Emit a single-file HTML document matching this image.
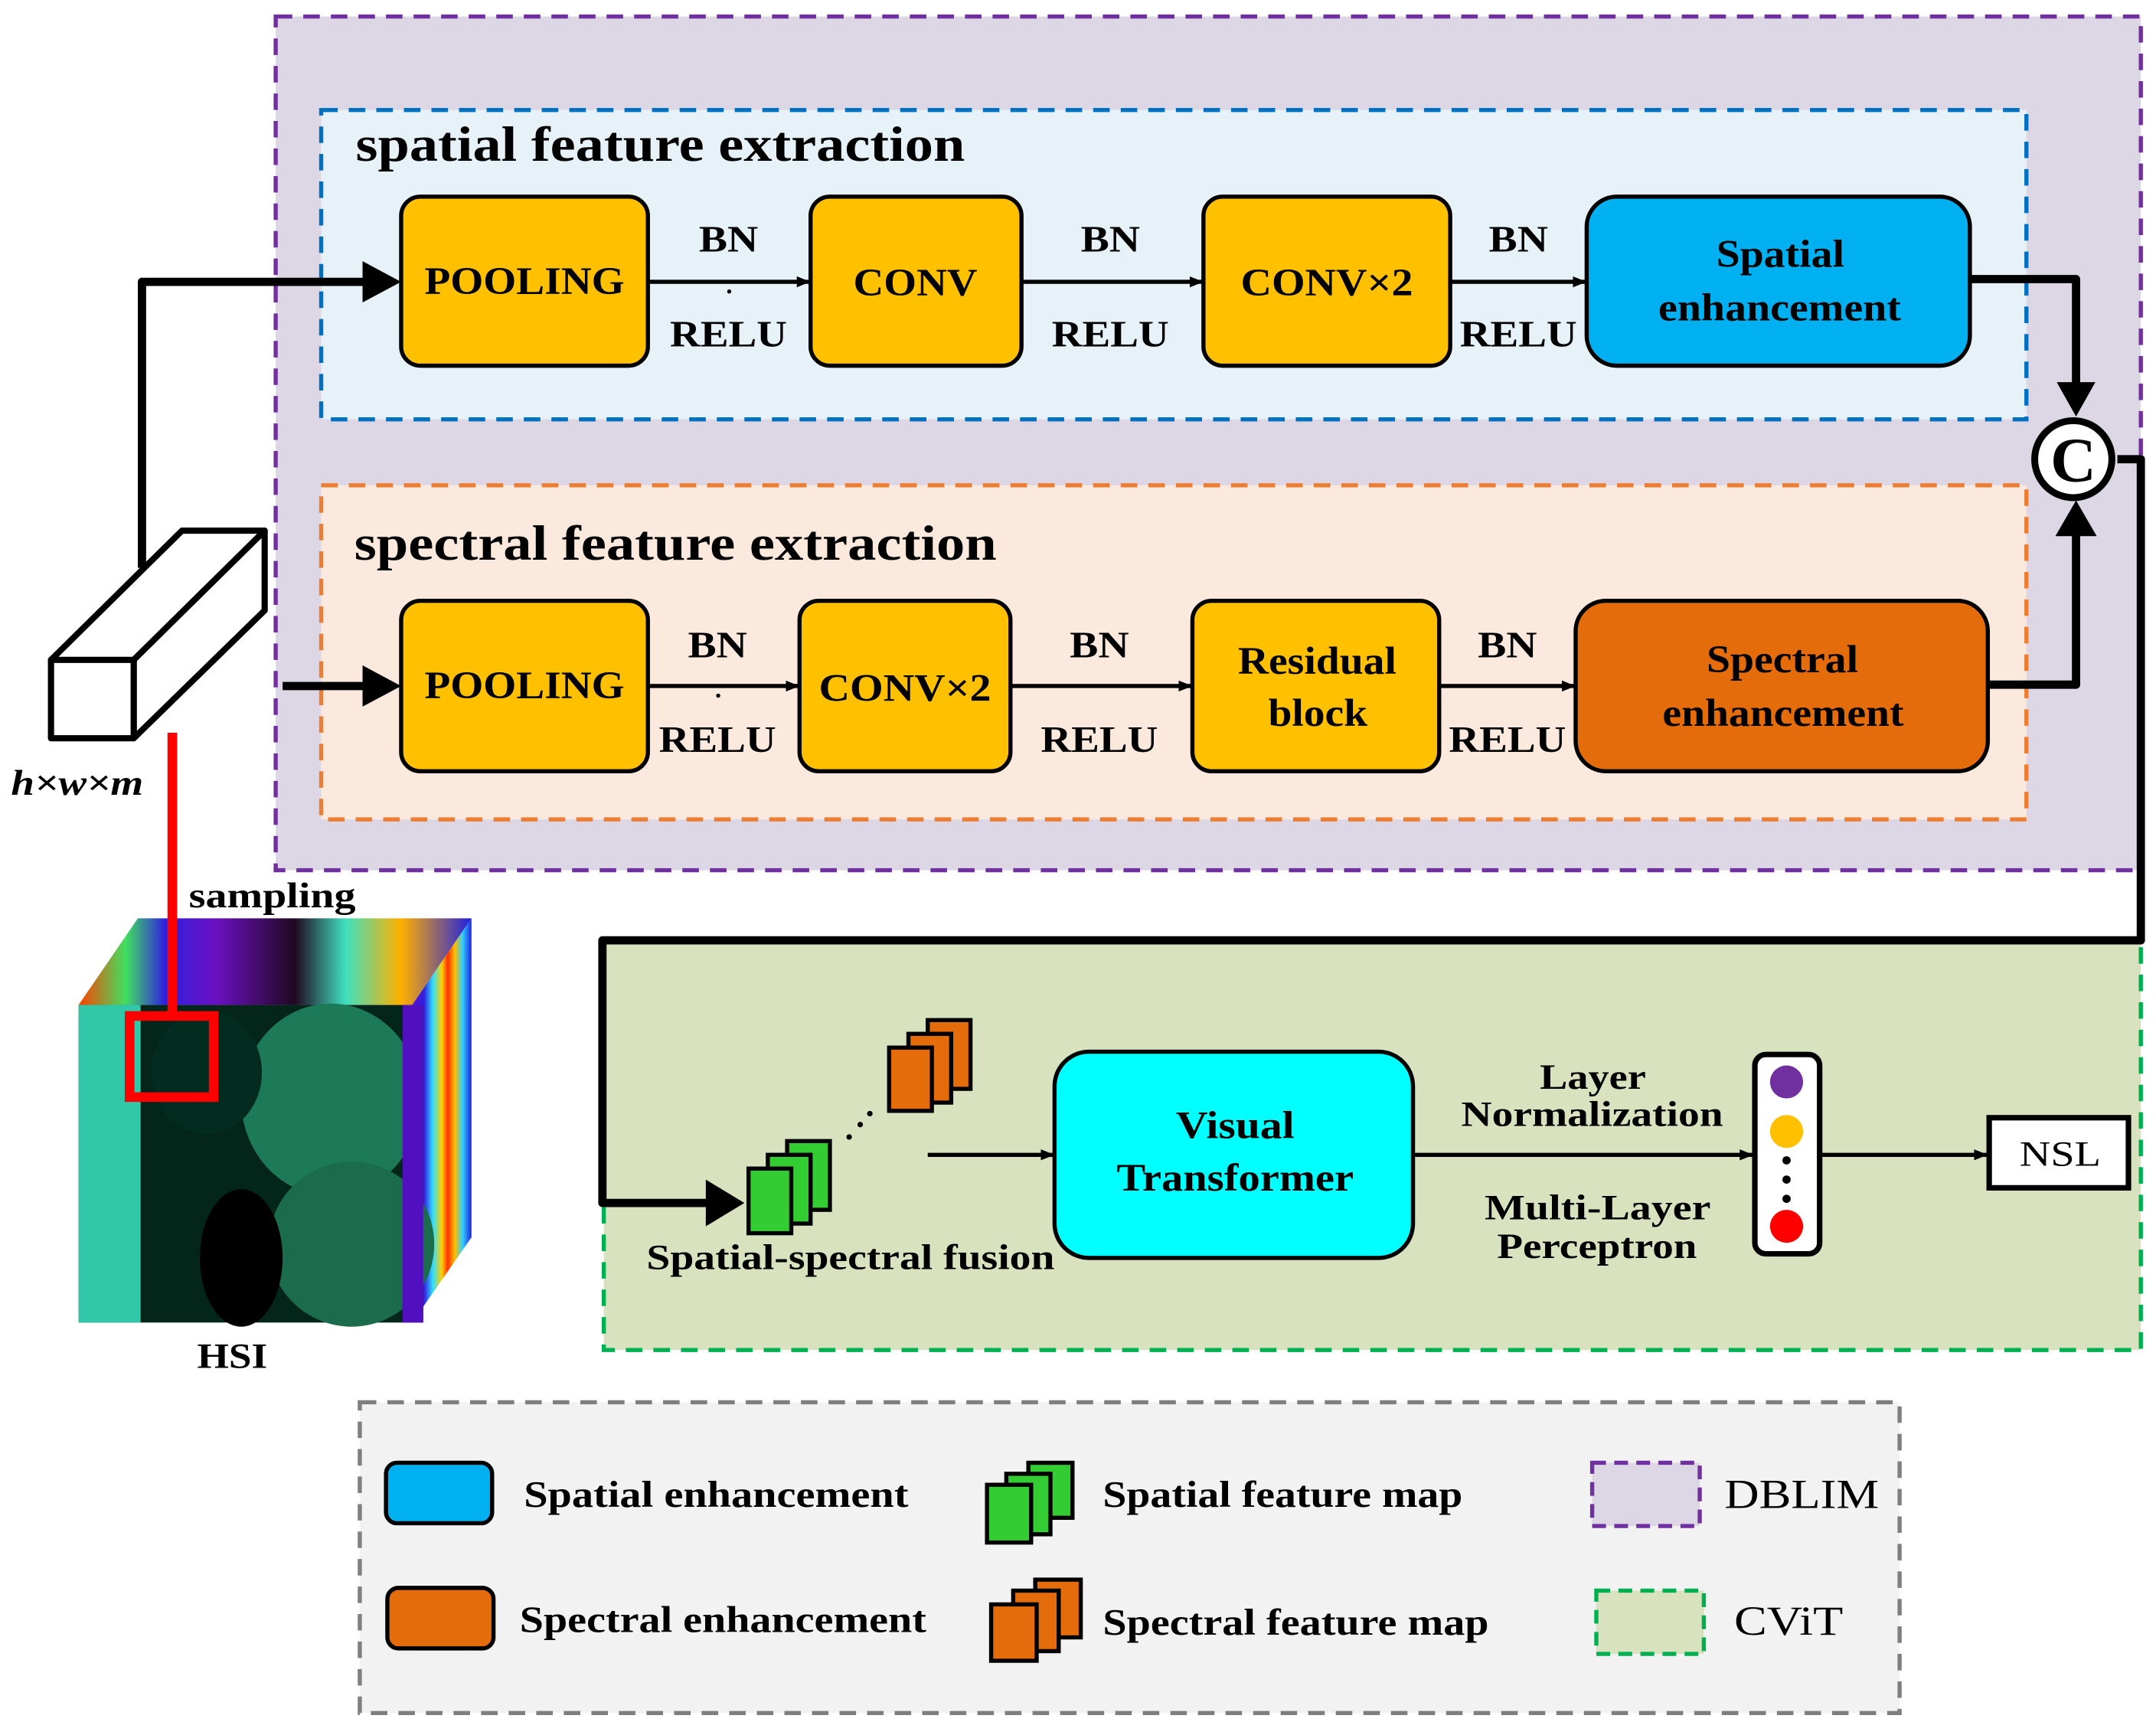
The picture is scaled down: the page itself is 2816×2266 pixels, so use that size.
<!DOCTYPE html>
<html><head><meta charset="utf-8">
<style>
html,body{margin:0;padding:0;background:#fff;}
svg{display:block;}
text{font-family:"Liberation Serif",serif;font-weight:bold;fill:#000;}
</style></head>
<body>
<svg width="2816" height="2266" viewBox="0 0 1564 1262" preserveAspectRatio="none" xmlns="http://www.w3.org/2000/svg">
<defs>
<marker id="a" viewBox="0 0 10 10" refX="9" refY="5" markerWidth="10" markerHeight="10" markerUnits="userSpaceOnUse" orient="auto"><path d="M0,1 L10,5 L0,9z" fill="#000"/></marker>
<linearGradient id="side" x1="0" y1="0" x2="1" y2="0">
<stop offset="0" stop-color="#5a10d0"/><stop offset="0.2" stop-color="#3020e0"/><stop offset="0.35" stop-color="#30e0ff"/><stop offset="0.5" stop-color="#ffd000"/><stop offset="0.6" stop-color="#ff3000"/><stop offset="0.72" stop-color="#ffc000"/><stop offset="0.85" stop-color="#30d0ff"/><stop offset="1" stop-color="#2020e0"/></linearGradient>
<linearGradient id="top" x1="0" y1="0" x2="1" y2="0">
<stop offset="0" stop-color="#ff4000"/><stop offset="0.12" stop-color="#40e060"/><stop offset="0.22" stop-color="#3020e0"/><stop offset="0.35" stop-color="#6a10c0"/><stop offset="0.55" stop-color="#200820"/><stop offset="0.68" stop-color="#40e0c0"/><stop offset="0.82" stop-color="#ffb000"/><stop offset="1" stop-color="#2020e0"/></linearGradient>
</defs>

<!-- DBLIM outer -->
<rect x="200" y="12" width="1353" height="621" fill="#ddd7e5" stroke="#7030a0" stroke-width="3" stroke-dasharray="12,8"/>
<rect x="233" y="80" width="1237" height="225" fill="#e6f2f8" stroke="#0070c0" stroke-width="3" stroke-dasharray="12,8"/>
<text x="258" y="117" font-size="36" textLength="442" lengthAdjust="spacingAndGlyphs">spatial feature extraction</text>
<rect x="233" y="353" width="1237" height="243" fill="#fbe9dd" stroke="#ed7d31" stroke-width="3" stroke-dasharray="12,8"/>
<text x="257" y="407" font-size="36" textLength="466" lengthAdjust="spacingAndGlyphs">spectral feature extraction</text>

<g stroke="#000" stroke-width="3">
<rect x="291" y="143" width="179" height="123" rx="14" fill="#ffc000"/>
<rect x="588" y="143" width="153" height="123" rx="14" fill="#ffc000"/>
<rect x="873" y="143" width="179" height="123" rx="14" fill="#ffc000"/>
<rect x="1151" y="143" width="278" height="123" rx="22" fill="#00b0f0"/>
<rect x="291" y="437" width="179" height="124" rx="14" fill="#ffc000"/>
<rect x="580" y="437" width="153" height="124" rx="14" fill="#ffc000"/>
<rect x="865" y="437" width="179" height="124" rx="14" fill="#ffc000"/>
<rect x="1143" y="437" width="299" height="124" rx="22" fill="#e46c0a"/>
</g>
<g font-size="28" lengthAdjust="spacingAndGlyphs">
<text x="308" y="214" textLength="145" lengthAdjust="spacingAndGlyphs">POOLING</text>
<text x="619" y="215" textLength="90" lengthAdjust="spacingAndGlyphs">CONV</text>
<text x="900" y="215" textLength="125" lengthAdjust="spacingAndGlyphs">CONV×2</text>
<text x="1245" y="194" textLength="93" lengthAdjust="spacingAndGlyphs">Spatial</text>
<text x="1203" y="233" textLength="176" lengthAdjust="spacingAndGlyphs">enhancement</text>
<text x="308" y="508" textLength="145" lengthAdjust="spacingAndGlyphs">POOLING</text>
<text x="594" y="510" textLength="125" lengthAdjust="spacingAndGlyphs">CONV×2</text>
<text x="898" y="490" textLength="115" lengthAdjust="spacingAndGlyphs">Residual</text>
<text x="920" y="528" textLength="72" lengthAdjust="spacingAndGlyphs">block</text>
<text x="1238" y="489" textLength="110" lengthAdjust="spacingAndGlyphs">Spectral</text>
<text x="1206" y="528" textLength="175" lengthAdjust="spacingAndGlyphs">enhancement</text>
</g>
<g stroke="#000" stroke-width="3" fill="none" marker-end="url(#a)">
<line x1="470" y1="205" x2="587" y2="205"/>
<line x1="741" y1="205" x2="872" y2="205"/>
<line x1="1052" y1="205" x2="1150" y2="205"/>
<line x1="470" y1="499" x2="579" y2="499"/>
<line x1="733" y1="499" x2="864" y2="499"/>
<line x1="1044" y1="499" x2="1142" y2="499"/>
</g>
<g font-size="27">
<text x="507" y="183" textLength="43" lengthAdjust="spacingAndGlyphs">BN</text><text x="486" y="252" textLength="85" lengthAdjust="spacingAndGlyphs">RELU</text>
<text x="784" y="183" textLength="43" lengthAdjust="spacingAndGlyphs">BN</text><text x="763" y="252" textLength="85" lengthAdjust="spacingAndGlyphs">RELU</text>
<text x="1080" y="183" textLength="43" lengthAdjust="spacingAndGlyphs">BN</text><text x="1059" y="252" textLength="85" lengthAdjust="spacingAndGlyphs">RELU</text>
<text x="499" y="478" textLength="43" lengthAdjust="spacingAndGlyphs">BN</text><text x="478" y="547" textLength="85" lengthAdjust="spacingAndGlyphs">RELU</text>
<text x="776" y="478" textLength="43" lengthAdjust="spacingAndGlyphs">BN</text><text x="755" y="547" textLength="85" lengthAdjust="spacingAndGlyphs">RELU</text>
<text x="1072" y="478" textLength="43" lengthAdjust="spacingAndGlyphs">BN</text><text x="1051" y="547" textLength="85" lengthAdjust="spacingAndGlyphs">RELU</text>
</g>
<circle cx="529" cy="212" r="1.5" fill="#000"/>
<circle cx="521" cy="506" r="1.5" fill="#000"/>

<!-- CViT -->
<rect x="438" y="684" width="1115" height="298" fill="#d8e2be" stroke="#00b050" stroke-width="3" stroke-dasharray="12,8"/>

<g stroke="#000" stroke-width="6" fill="none" stroke-linejoin="round">
<polyline points="103,413 103,205 268,205"/>
<line x1="205" y1="499" x2="268" y2="499"/>
<polyline points="1429,203 1506,203 1506,283"/>
<polyline points="1442,498 1506,498 1506,385"/>
<polyline points="1536,334 1553,334 1553,684 437,684 437,875 518,875"/>
</g>
<g fill="#000">
<path d="M263,190 L291,205 L263,220z"/>
<path d="M263,484 L291,499 L263,514z"/>
<path d="M1492,278 L1520,278 L1506,303z"/>
<path d="M1491,390 L1521,390 L1506,364z"/>
<path d="M512,858 L540,875 L512,892z"/>
</g>
<circle cx="1504" cy="334" r="28" fill="#fff" stroke="#000" stroke-width="5"/>
<text x="1504" y="350" font-size="46" text-anchor="middle">C</text>

<!-- small cube -->
<g stroke="#000" stroke-width="4.5" fill="#fff" stroke-linejoin="round">
<polygon points="37,480 132,386 192,386 97,480"/>
<polygon points="97,480 192,386 192,444 97,537"/>
<rect x="37" y="480" width="60" height="57"/>
</g>
<text x="8" y="578" font-size="26" font-style="italic" textLength="96" lengthAdjust="spacingAndGlyphs">h×w×m</text>

<!-- HSI cube -->
<polygon points="57,731 100,668 342,668 299,731" fill="url(#top)"/>
<polygon points="299,731 342,668 342,900 299,962" fill="url(#side)"/>
<rect x="57" y="731" width="250" height="231" fill="#03251a"/>
<rect x="57" y="731" width="45" height="231" fill="#30c8a8"/>
<ellipse cx="240" cy="800" rx="65" ry="70" fill="#1d7a58"/>
<ellipse cx="255" cy="905" rx="60" ry="60" fill="#1a6c4c"/>
<ellipse cx="175" cy="915" rx="30" ry="50" fill="#000"/>
<ellipse cx="150" cy="780" rx="40" ry="45" fill="#042b1f"/>
<rect x="292" y="731" width="15" height="231" fill="#5010c0"/>
<line x1="125" y1="533" x2="125" y2="740" stroke="#f00" stroke-width="7"/>
<rect x="94" y="739" width="61" height="59" fill="none" stroke="#f00" stroke-width="7"/>
<text x="137" y="660" font-size="26" textLength="121" lengthAdjust="spacingAndGlyphs">sampling</text>
<text x="143" y="995" font-size="26" textLength="51" lengthAdjust="spacingAndGlyphs">HSI</text>

<g stroke="#000" stroke-width="3">
<rect x="571" y="830" width="31" height="50" fill="#33cc33"/>
<rect x="557" y="840" width="31" height="50" fill="#33cc33"/>
<rect x="543" y="850" width="31" height="47" fill="#33cc33"/>
<rect x="673" y="742" width="31" height="50" fill="#e46c0a"/>
<rect x="659" y="752" width="31" height="50" fill="#e46c0a"/>
<rect x="645" y="762" width="31" height="46" fill="#e46c0a"/>
</g>
<circle cx="616" cy="827" r="2" fill="#000"/><circle cx="624" cy="818" r="2" fill="#000"/><circle cx="631" cy="810" r="2" fill="#000"/>
<text x="469" y="923" font-size="26" textLength="296" lengthAdjust="spacingAndGlyphs">Spatial-spectral fusion</text>
<line x1="673" y1="840" x2="764" y2="840" stroke="#000" stroke-width="3" marker-end="url(#a)"/>
<rect x="765" y="765" width="260" height="150" rx="25" fill="#00ffff" stroke="#000" stroke-width="3"/>
<text x="853" y="828" font-size="28" textLength="86" lengthAdjust="spacingAndGlyphs">Visual</text>
<text x="810" y="866" font-size="28" textLength="172" lengthAdjust="spacingAndGlyphs">Transformer</text>
<line x1="1025" y1="840" x2="1271" y2="840" stroke="#000" stroke-width="3" marker-end="url(#a)"/>
<text x="1117" y="792" font-size="26" textLength="77" lengthAdjust="spacingAndGlyphs">Layer</text>
<text x="1060" y="819" font-size="26" textLength="190" lengthAdjust="spacingAndGlyphs">Normalization</text>
<text x="1077" y="887" font-size="26" textLength="164" lengthAdjust="spacingAndGlyphs">Multi-Layer</text>
<text x="1086" y="915" font-size="26" textLength="145" lengthAdjust="spacingAndGlyphs">Perceptron</text>
<rect x="1273" y="767" width="47" height="145" rx="8" fill="#fff" stroke="#000" stroke-width="4"/>
<circle cx="1296" cy="787" r="12" fill="#7030a0"/>
<circle cx="1296" cy="823" r="12" fill="#ffc000"/>
<circle cx="1296" cy="844" r="3" fill="#000"/><circle cx="1296" cy="858" r="3" fill="#000"/><circle cx="1296" cy="872" r="3" fill="#000"/>
<circle cx="1296" cy="892" r="12" fill="#f00"/>
<line x1="1320" y1="840" x2="1441" y2="840" stroke="#000" stroke-width="3" marker-end="url(#a)"/>
<rect x="1443" y="813" width="101" height="51" fill="#fff" stroke="#000" stroke-width="4"/>
<text x="1465" y="848" font-size="26" style="font-weight:normal" textLength="59" lengthAdjust="spacingAndGlyphs">NSL</text>

<!-- legend -->
<rect x="261" y="1020" width="1117" height="226" fill="#f2f2f2" stroke="#7f7f7f" stroke-width="3" stroke-dasharray="12,8"/>
<rect x="280" y="1064" width="77" height="44" rx="8" fill="#00b0f0" stroke="#000" stroke-width="3"/>
<rect x="281" y="1155" width="77" height="44" rx="8" fill="#e46c0a" stroke="#000" stroke-width="3"/>
<text x="380" y="1096" font-size="27" textLength="279" lengthAdjust="spacingAndGlyphs">Spatial enhancement</text>
<text x="377" y="1187" font-size="27" textLength="295" lengthAdjust="spacingAndGlyphs">Spectral enhancement</text>
<g stroke="#000" stroke-width="3">
<rect x="746" y="1064" width="32" height="40" fill="#33cc33"/>
<rect x="730" y="1072" width="32" height="44" fill="#33cc33"/>
<rect x="716" y="1080" width="32" height="42" fill="#33cc33"/>
<rect x="751" y="1149" width="33" height="42" fill="#e46c0a"/>
<rect x="735" y="1157" width="33" height="44" fill="#e46c0a"/>
<rect x="719" y="1167" width="33" height="41" fill="#e46c0a"/>
</g>
<text x="800" y="1096" font-size="27" textLength="261" lengthAdjust="spacingAndGlyphs">Spatial feature map</text>
<text x="800" y="1189" font-size="27" textLength="280" lengthAdjust="spacingAndGlyphs">Spectral feature map</text>
<rect x="1155" y="1064" width="78" height="46" fill="#ddd7e5" stroke="#7030a0" stroke-width="3" stroke-dasharray="10,6"/>
<rect x="1158" y="1157" width="78" height="46" fill="#d8e2be" stroke="#00b050" stroke-width="3" stroke-dasharray="10,6"/>
<text x="1251" y="1097" font-size="30" style="font-weight:normal" textLength="112" lengthAdjust="spacingAndGlyphs">DBLIM</text>
<text x="1258" y="1189" font-size="30" style="font-weight:normal" textLength="79" lengthAdjust="spacingAndGlyphs">CViT</text>
</svg>
</body></html>
